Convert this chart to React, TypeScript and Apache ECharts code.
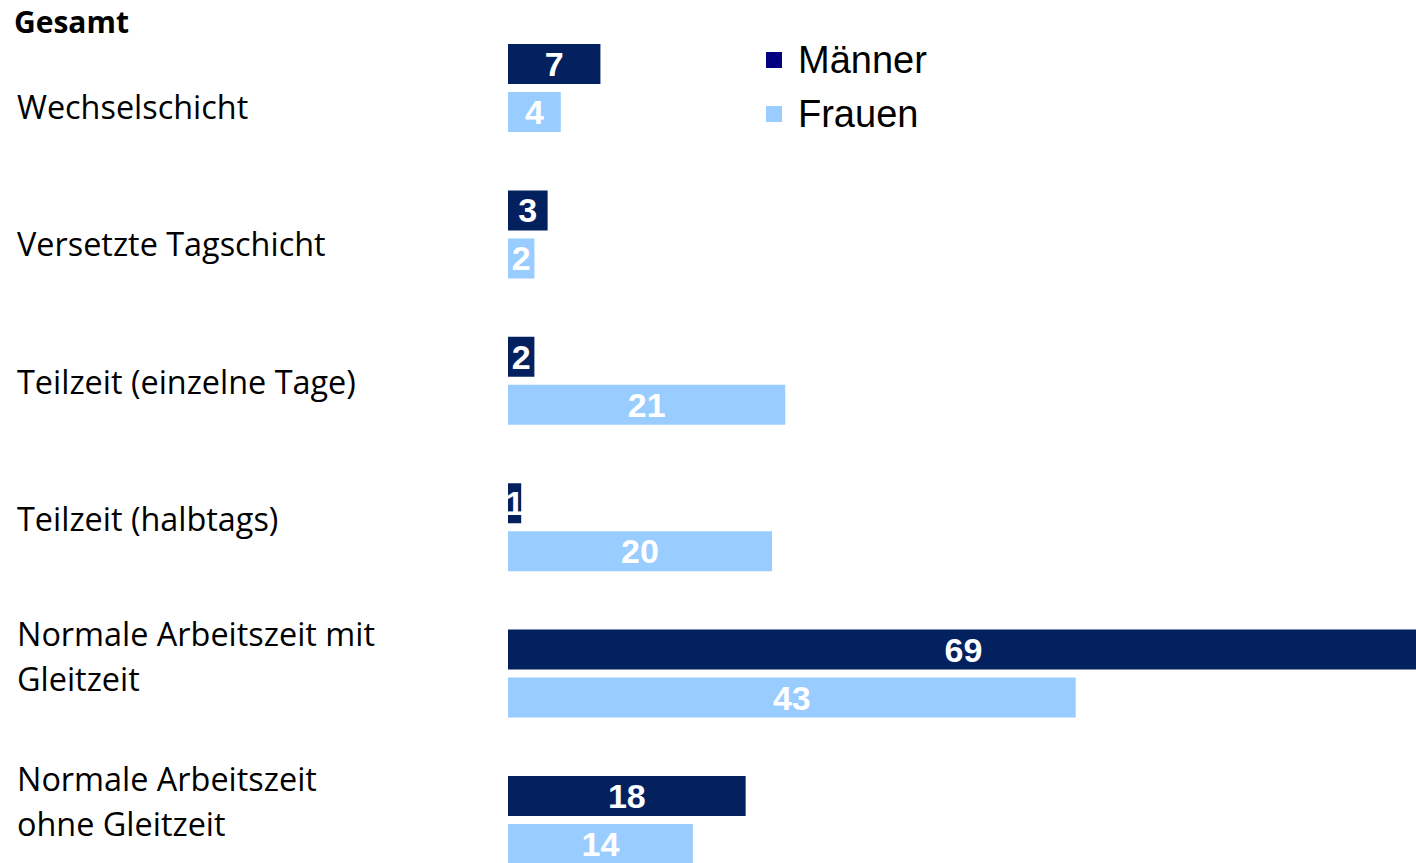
import React, { useEffect, useRef } from "react";
import * as echarts from "echarts";

const categories = [
  "Wechselschicht",
  "Versetzte Tagschicht",
  "Teilzeit (einzelne Tage)",
  "Teilzeit (halbtags)",
  "Normale Arbeitszeit mit\nGleitzeit",
  "Normale Arbeitszeit\nohne Gleitzeit",
];
const maenner = [7, 3, 2, 1, 69, 18];
const frauen = [4, 2, 21, 20, 43, 14];
const seriesNames = ["Männer", "Frauen"];
const titleText = "Gesamt";

export default function App() {
  const ref = useRef<HTMLDivElement>(null);
  useEffect(() => {
    if (!ref.current) return;
    const chart = echarts.init(ref.current, undefined, { renderer: "svg" });
    const barLabel = {
      show: true,
      position: "inside",
      color: "#ffffff",
      fontWeight: "bold",
      fontSize: 34,
      fontFamily: "Liberation Sans, Arial, sans-serif",
    };
    const catLabelStyle = {
      align: "left",
      fontFamily: "Open Sans, sans-serif",
      fontSize: 32.4,
      lineHeight: 45,
      color: "#000000",
    };
    chart.setOption({
      animation: false,
      backgroundColor: "#ffffff",
      title: {
        text: titleText,
        left: 9,
        top: 1,
        textStyle: {
          fontFamily: "Open Sans, sans-serif",
          fontWeight: "bold",
          fontSize: 30,
          color: "#000000",
        },
      },
      legend: {
        orient: "vertical",
        left: 761,
        top: 36,
        icon: "rect",
        itemWidth: 16,
        itemHeight: 16,
        itemGap: 16,
        data: [
          { name: seriesNames[0], itemStyle: { color: "#000080" } },
          { name: seriesNames[1], itemStyle: { color: "#99CCFF" } },
        ],
        textStyle: {
          fontFamily: "Liberation Sans, Arial, sans-serif",
          fontSize: 38,
          lineHeight: 36,
          color: "#000000",
          padding: [0, 0, 0, 11],
        },
      },
      grid: [
        { left: 508, right: -3, top: 14.8, bottom: -30.2, containLabel: false, outerBoundsMode: "none" },
        { left: 17, width: 400, top: 37.3, bottom: 1.3, containLabel: false, outerBoundsMode: "none" },
      ],
      xAxis: [
        { type: "value", gridIndex: 0, min: 0, max: 69, show: false },
        { type: "value", gridIndex: 1, min: 0, max: 1, show: false },
      ],
      yAxis: [
        {
          type: "category",
          gridIndex: 0,
          inverse: true,
          data: categories,
          axisLine: { show: false },
          axisTick: { show: false },
          axisLabel: { show: false },
        },
        {
          type: "category",
          gridIndex: 1,
          inverse: true,
          data: categories,
          axisLine: { show: false },
          axisTick: { show: false },
          axisLabel: {
            show: true,
            margin: 0,
            ...catLabelStyle,
            formatter: (value: string, index: number) =>
              index === categories.length - 1
                ? "{sp| }\n" +
                  value
                    .split("\n")
                    .map((l) => "{a|" + l + "}")
                    .join("\n")
                : value,
            rich: {
              sp: { fontSize: 1, lineHeight: 14 },
              a: { ...catLabelStyle },
            },
          },
        },
      ],
      series: [
        {
          name: seriesNames[0],
          type: "bar",
          xAxisIndex: 0,
          yAxisIndex: 0,
          data: maenner,
          barWidth: 40,
          barGap: "20%",
          itemStyle: { color: "#03215F" },
          label: barLabel,
        },
        {
          name: seriesNames[1],
          type: "bar",
          xAxisIndex: 0,
          yAxisIndex: 0,
          data: frauen,
          barWidth: 40,
          barGap: "20%",
          itemStyle: { color: "#99CCFF" },
          label: barLabel,
        },
      ],
    });
    return () => chart.dispose();
  }, []);
  return (
    <div
      ref={ref}
      style={{ position: "fixed", left: 0, top: 0, width: 1416, height: 863 }}
    />
  );
}
